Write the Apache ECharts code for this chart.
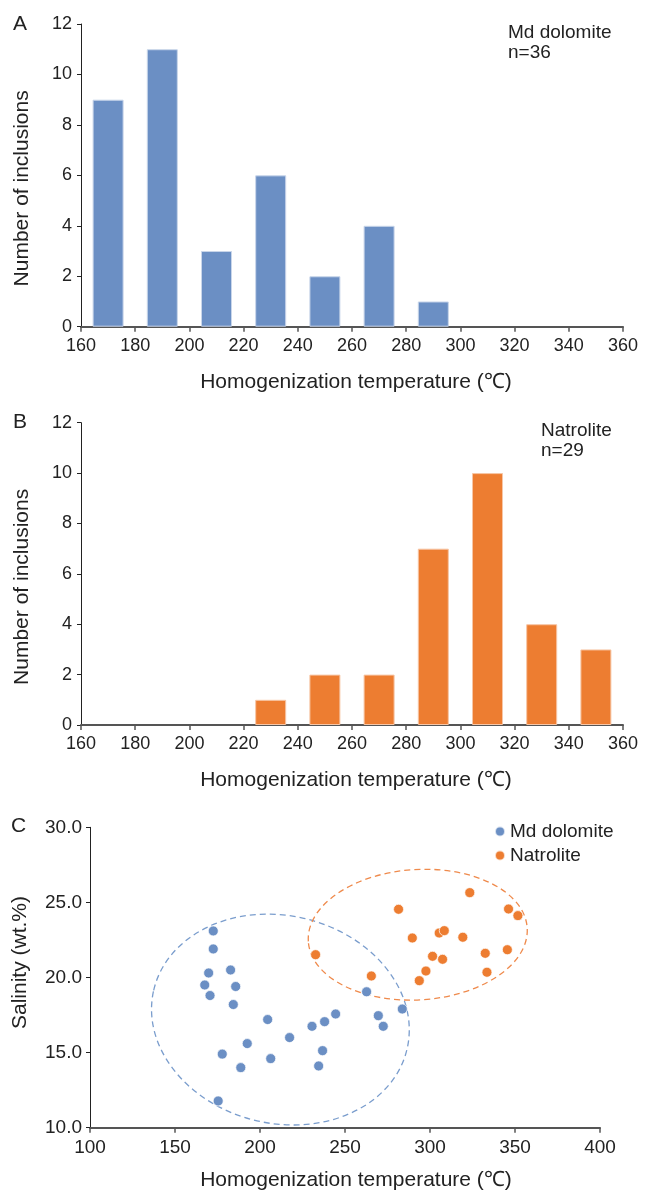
<!DOCTYPE html>
<html>
<head>
<meta charset="utf-8">
<script src="https://cdn.jsdelivr.net/npm/echarts@6/dist/echarts.min.js"></script>
<style>
  html, body { margin: 0; padding: 0; background: #fff; }
  #chart { width: 646px; height: 1193px; }
</style>
</head>
<body>
<div id="chart"></div>
<script>
// histogram bins, 20 ℃ wide, given by their centres
const binCenters = [170, 190, 210, 230, 250, 270, 290, 310, 330, 350];
const dolomiteCounts = [9, 11, 3, 6, 2, 4, 1, 0, 0, 0];
const natroliteCounts = [0, 0, 0, 1, 2, 2, 7, 10, 4, 3];

// scatter: homogenization temperature vs salinity
const dolomiteTemp = [172.5, 172.5, 169.8, 182.7, 167.5, 185.7, 170.6, 184.3, 204.5, 192.5, 177.8, 188.7,
  206.3, 217.4, 230.6, 238.0, 244.5, 236.8, 234.5, 175.4, 262.7, 269.6, 272.5, 283.7];
const dolomiteSalinity = [23.1, 21.9, 20.3, 20.5, 19.5, 19.4, 18.8, 18.2, 17.2, 15.6, 14.9, 14.0,
  14.6, 16.0, 16.75, 17.06, 17.57, 15.13, 14.11, 11.78, 19.05, 17.46, 16.75, 17.9];
const natroliteTemp = [281.5, 323.4, 346.2, 351.7, 289.6, 305.4, 308.4, 319.3, 232.7, 301.5, 307.4,
  332.5, 345.5, 297.6, 265.5, 293.7, 333.5];
const natroliteSalinity = [24.54, 25.65, 24.56, 24.12, 22.63, 22.96, 23.12, 22.68, 21.52, 21.41, 21.21,
  21.61, 21.85, 20.43, 20.1, 19.79, 20.35];

// dashed outlines: centre x, centre y, radius x, radius y (data units), tilt in degrees
const dolomiteEllipse = [212.0, 17.2, 76.5, 6.92, -13];
const natroliteEllipse = [292.8, 22.85, 64.5, 4.34, 3.5];

const xTitle = 'Homogenization temperature (℃)';
const blue = '#6B8FC4';
const orange = '#ED7D31';
const textColor = '#222';

const toPairs = (xs, ys) => xs.map((x, i) => [x, ys[i]]);
const nonZero = counts => binCenters.map((c, i) => [c, counts[i]]).filter(d => d[1] > 0);

const chart = echarts.init(document.getElementById('chart'));

const histX = gridIndex => ({
  type: 'value',
  gridIndex: gridIndex,
  min: 160,
  max: 360,
  interval: 20,
  axisLine: { show: true, onZero: false, lineStyle: { color: '#555', width: 2 } },
  axisTick: { show: true, length: 5, lineStyle: { color: '#555', width: 1.5 } },
  axisLabel: { fontSize: 18, color: textColor, margin: 10 },
  splitLine: { show: false },
  name: xTitle,
  nameLocation: 'middle',
  nameGap: 45,
  nameTextStyle: { fontSize: 21, color: textColor, padding: [0, 0, 0, 8] }
});

const histY = gridIndex => ({
  type: 'value',
  gridIndex: gridIndex,
  min: 0,
  max: 12,
  interval: 2,
  axisLine: { show: true, onZero: false, lineStyle: { color: '#222', width: 1 } },
  axisTick: { show: true, length: 4, lineStyle: { color: '#222' } },
  axisLabel: { fontSize: 18, color: textColor, margin: 9 },
  splitLine: { show: false },
  name: 'Number of inclusions',
  nameLocation: 'middle',
  nameGap: 48,
  nameTextStyle: { fontSize: 21, color: textColor, padding: [0, 26, 0, 0] }
});

const titleStyle = { fontSize: 21, fontWeight: 'normal', color: textColor };
const noteStyle = { fontSize: 19, lineHeight: 20, fontWeight: 'normal', color: textColor };

const renderEllipse = (params, api) => {
  const c = api.coord([api.value(0), api.value(1)]);
  const s = api.size([api.value(2), api.value(3)]);
  return {
    type: 'ellipse',
    x: c[0],
    y: c[1],
    rotation: api.value(4) * Math.PI / 180,
    shape: { cx: 0, cy: 0, rx: s[0], ry: s[1] },
    style: { fill: null, stroke: api.visual('color'), lineWidth: 1.3, lineDash: [6, 4] },
    silent: true
  };
};

const option = {
  animation: false,
  textStyle: { fontFamily: 'Liberation Sans, Arial, sans-serif' },
  title: [
    { text: 'A', left: 13, top: 14, padding: 0, textStyle: titleStyle },
    { text: 'B', left: 13, top: 412, padding: 0, textStyle: titleStyle },
    { text: 'C', left: 11, top: 816, padding: 0, textStyle: titleStyle },
    { text: 'Md dolomite\nn=36', left: 508, top: 23, padding: 0, textStyle: noteStyle },
    { text: 'Natrolite\nn=29', left: 541, top: 421, padding: 0, textStyle: noteStyle }
  ],
  legend: {
    data: ['Md dolomite', 'Natrolite'],
    orient: 'vertical',
    left: 494,
    top: 822,
    padding: 0,
    icon: 'circle',
    itemWidth: 10,
    itemHeight: 10,
    itemGap: 5,
    textStyle: { fontSize: 19, color: textColor }
  },
  grid: [
    { left: 81, top: 24, width: 542, height: 302.7, outerBoundsMode: 'none' },
    { left: 81, top: 422.7, width: 542, height: 302.3, outerBoundsMode: 'none' },
    { left: 90, top: 827.3, width: 510, height: 300.4, outerBoundsMode: 'none' }
  ],
  xAxis: [
    histX(0),
    histX(1),
    {
      type: 'value',
      gridIndex: 2,
      min: 100,
      max: 400,
      interval: 50,
      axisLine: { show: true, onZero: false, lineStyle: { color: '#555', width: 2 } },
      axisTick: { show: true, length: 5, lineStyle: { color: '#555', width: 1.5 } },
      axisLabel: { fontSize: 19, color: textColor, margin: 11 },
      splitLine: { show: false },
      name: xTitle,
      nameLocation: 'middle',
      nameGap: 42,
      nameTextStyle: { fontSize: 21, color: textColor, padding: [0, 0, 0, 22] }
    }
  ],
  yAxis: [
    histY(0),
    histY(1),
    {
      type: 'value',
      gridIndex: 2,
      min: 10,
      max: 30,
      interval: 5,
      axisLine: { show: true, onZero: false, lineStyle: { color: '#222', width: 1 } },
      axisTick: { show: true, length: 4, lineStyle: { color: '#222' } },
      axisLabel: { fontSize: 19, color: textColor, margin: 8, formatter: v => v.toFixed(1) },
      splitLine: { show: false },
      name: 'Salinity (wt.%)',
      nameLocation: 'middle',
      nameGap: 59,
      nameTextStyle: { fontSize: 21, color: textColor, padding: [0, 0, 0, 30] }
    }
  ],
  series: [
    {
      name: 'dolomite histogram',
      type: 'bar',
      xAxisIndex: 0,
      yAxisIndex: 0,
      barWidth: 31,
      data: nonZero(dolomiteCounts),
      itemStyle: { color: blue, borderColor: '#C9D6EA', borderWidth: 1 }
    },
    {
      name: 'natrolite histogram',
      type: 'bar',
      xAxisIndex: 1,
      yAxisIndex: 1,
      barWidth: 31,
      data: nonZero(natroliteCounts),
      itemStyle: { color: orange, borderColor: '#F7C6A6', borderWidth: 1 }
    },
    {
      name: 'outlines',
      type: 'custom',
      xAxisIndex: 2,
      yAxisIndex: 2,
      renderItem: renderEllipse,
      encode: { x: 0, y: 1 },
      data: [
        { value: dolomiteEllipse, itemStyle: { color: '#7A9DCD' } },
        { value: natroliteEllipse, itemStyle: { color: '#EF8A4C' } }
      ],
      z: 1
    },
    {
      name: 'Md dolomite',
      type: 'scatter',
      xAxisIndex: 2,
      yAxisIndex: 2,
      symbolSize: 10,
      data: toPairs(dolomiteTemp, dolomiteSalinity),
      itemStyle: { color: blue, opacity: 1, borderColor: 'rgba(255,255,255,0.7)', borderWidth: 1 },
      z: 3
    },
    {
      name: 'Natrolite',
      type: 'scatter',
      xAxisIndex: 2,
      yAxisIndex: 2,
      symbolSize: 10,
      data: toPairs(natroliteTemp, natroliteSalinity),
      itemStyle: { color: orange, opacity: 1, borderColor: 'rgba(255,255,255,0.7)', borderWidth: 1 },
      z: 3
    }
  ]
};

chart.setOption(option);
window.addEventListener('resize', () => chart.resize());
</script>
</body>
</html>
